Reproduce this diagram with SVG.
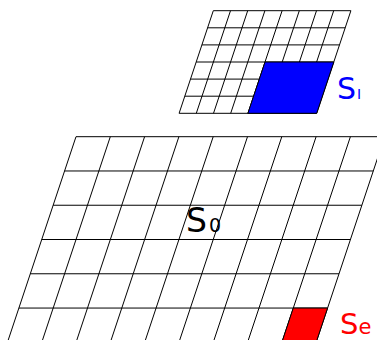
<svg xmlns="http://www.w3.org/2000/svg" width="377" height="340" viewBox="0 0 377 340">
<style>
.grid{fill:none;stroke:#000;stroke-width:1}
.cell{stroke:#000;stroke-width:1}
.lbl{font-family:"DejaVu Sans",sans-serif}
</style>
<rect width="377" height="340" fill="#fff"/>
<g id="small-grid">
<path class="grid" d="M213.3,10.7H350.9M207.6,27.8H345.2M201.9,44.9H339.5M196.2,62H333.8M190.5,79.1H328.1M184.8,96.2H322.4M179.1,113.3H316.7
M213.3,10.7L179.1,113.3M230.5,10.7L196.3,113.3M247.7,10.7L213.5,113.3M264.9,10.7L230.7,113.3M282.1,10.7L247.9,113.3M299.3,10.7L265.1,113.3M316.5,10.7L282.3,113.3M333.7,10.7L299.5,113.3M350.9,10.7L316.7,113.3"/>
<polygon id="blue-region" class="cell" fill="#0000ff" points="265,62 333.8,62 316.7,113.3 247.9,113.3"/>
</g>
<g id="big-grid">
<path class="grid" d="M76,136.7H384.7M64.58,170.97H373.28M53.15,205.24H361.85M41.73,239.51H350.43M30.31,273.78H339.01M18.88,308.05H327.58M7.46,342.32H316.16
M76,136.7L7.46,342.32M110.3,136.7L41.76,342.32M144.6,136.7L76.06,342.32M178.9,136.7L110.36,342.32M213.2,136.7L144.66,342.32M247.5,136.7L178.96,342.32M281.8,136.7L213.26,342.32M316.1,136.7L247.56,342.32M350.4,136.7L281.86,342.32M384.7,136.7L316.16,342.32"/>
<polygon id="red-cell" class="cell" fill="#ff0000" points="293.28,308.05 327.58,308.05 316.16,342.32 281.86,342.32"/>
</g>
<g id="labels" class="lbl">
<text id="label-s0" x="186" y="232" fill="#000" font-size="33">S<tspan dx="2" font-size="19">0</tspan></text>
<text id="label-si" x="337" y="99" fill="#0000ff" font-size="30">S<tspan dx="1" font-size="14">I</tspan></text>
<text id="label-se" x="340" y="334" fill="#ff0000" font-size="29">S<tspan font-size="21">e</tspan></text>
</g>
</svg>
